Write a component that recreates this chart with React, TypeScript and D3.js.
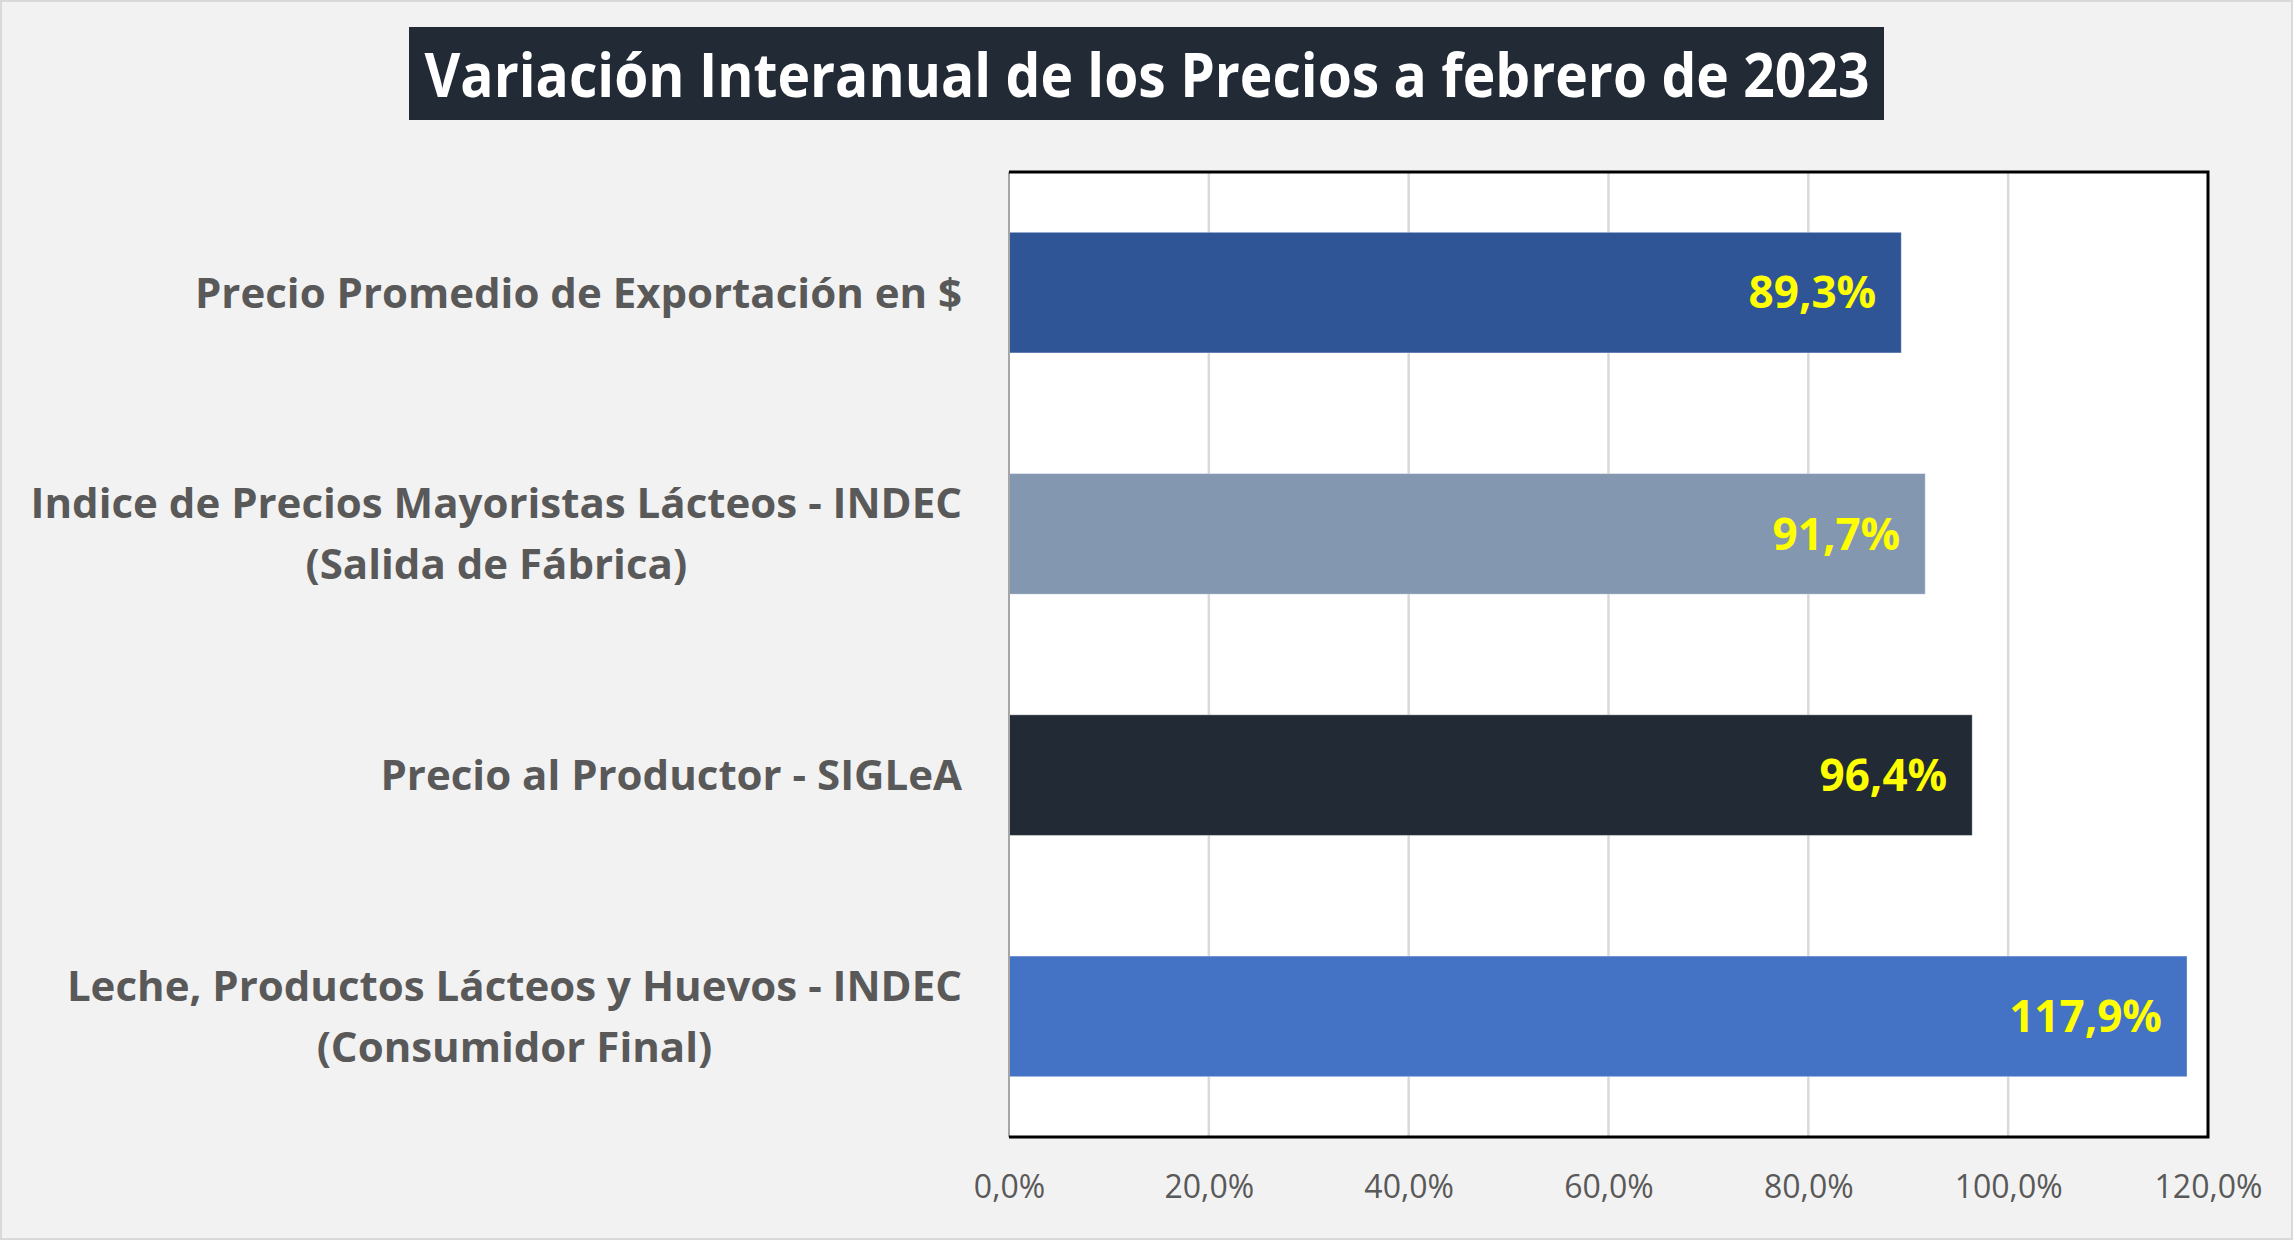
import React, { useEffect, useRef } from "react";
import * as d3 from "d3";

const TITLE = "Variación Interanual de los Precios a febrero de 2023";
const categories: string[][] = [
  ["Precio Promedio de Exportación en $"],
  ["Indice de Precios Mayoristas Lácteos - INDEC", "(Salida de Fábrica)"],
  ["Precio al Productor - SIGLeA"],
  ["Leche, Productos Lácteos y Huevos - INDEC", "(Consumidor Final)"],
];
const values: number[] = [89.3, 91.7, 96.4, 117.9];
const barColors: string[] = ["#2f5597", "#8497b0", "#222a35", "#4472c4"];
const tickValues: number[] = [0, 20, 40, 60, 80, 100, 120];

const W = 2293;
const H = 1240;
const FONT = "'Open Sans', 'Noto Sans', sans-serif";

export default function App() {
  const ref = useRef<SVGSVGElement | null>(null);

  useEffect(() => {
    const svg = d3.select(ref.current!);
    svg.selectAll("*").remove();

    const locale = d3.formatLocale({ decimal: ",", thousands: ".", grouping: [3], currency: ["$", ""] });
    const fmt = (v: number) => locale.format(".1f")(v) + "%";

    const left = 1009, right = 2208, top = 172, bottom = 1137;
    const x = d3.scaleLinear().domain([0, 120]).range([left, right]);
    const keys = categories.map((c) => c.join(" "));
    const y = d3.scaleBand<string>().domain(keys).range([top, bottom]).paddingInner(0.5).paddingOuter(0.25);

    // background
    svg.append("rect").attr("x", 1).attr("y", 1).attr("width", W - 2).attr("height", H - 2)
      .attr("fill", "#f2f2f2").attr("stroke", "#d9d9d9").attr("stroke-width", 2);

    // title box
    svg.append("rect").attr("x", 409).attr("y", 27).attr("width", 1475).attr("height", 93).attr("fill", "#222a35");
    svg.append("text").attr("x", 1147).attr("y", 97).attr("text-anchor", "middle")
      .attr("font-family", FONT).attr("font-weight", 700).attr("font-size", 61).attr("fill", "#ffffff")
      .attr("textLength", 1445).attr("lengthAdjust", "spacingAndGlyphs").text(TITLE);

    // plot area
    svg.append("rect").attr("x", left).attr("y", top).attr("width", right - left).attr("height", bottom - top).attr("fill", "#ffffff");

    // gridlines
    svg.append("g").selectAll("line").data(tickValues.filter((t) => t > 0 && t < 120)).join("line")
      .attr("x1", (d) => x(d)).attr("x2", (d) => x(d)).attr("y1", top).attr("y2", bottom)
      .attr("stroke", "#d9d9d9").attr("stroke-width", 2.5);

    // bars
    svg.append("g").selectAll("rect").data(values).join("rect")
      .attr("x", x(0)).attr("y", (_d, i) => y(keys[i])!).attr("width", (d) => x(d) - x(0))
      .attr("height", y.bandwidth()).attr("fill", (_d, i) => barColors[i])
      .attr("stroke", "#ffffff").attr("stroke-opacity", 0.35).attr("stroke-width", 1);

    // data labels
    svg.append("g").selectAll("text").data(values).join("text")
      .attr("x", (d) => x(d) - 25).attr("y", (_d, i) => y(keys[i])! + y.bandwidth() / 2).attr("dy", "0.36em")
      .attr("text-anchor", "end").attr("font-family", FONT).attr("font-weight", 700).attr("font-size", 44)
      .attr("fill", "#ffff00").text((d) => fmt(d));

    // borders
    svg.append("line").attr("x1", left).attr("x2", left).attr("y1", top).attr("y2", bottom)
      .attr("stroke", "#a6a6a6").attr("stroke-width", 2);
    svg.append("path").attr("d", `M${left},${top}H${right}V${bottom}H${left}`).attr("fill", "none")
      .attr("stroke", "#000000").attr("stroke-width", 3);

    // x axis tick labels
    const axis = d3.axisBottom(x).tickValues(tickValues).tickSize(0).tickPadding(0).tickFormat((d) => fmt(d as number));
    const ag = svg.append("g").attr("transform", `translate(0, 1175)`).call(axis);
    ag.select(".domain").remove();
    ag.selectAll("text").attr("font-family", FONT).attr("font-size", 32).attr("fill", "#595959").attr("dy", "0.71em");

    // category labels
    const labelRight = 962;
    const lineGap = 61;
    categories.forEach((lines, i) => {
      const cy = y(keys[i])! + y.bandwidth() / 2;
      const g = svg.append("g");
      const texts = lines.map((ln, j) =>
        g.append("text").attr("y", cy + (j - (lines.length - 1) / 2) * lineGap).attr("dy", "0.36em")
          .attr("text-anchor", "middle").attr("font-family", FONT).attr("font-weight", 700)
          .attr("font-size", 42).attr("fill", "#595959").text(ln)
      );
      const widths = texts.map((t) => (t.node() as SVGTextElement).getComputedTextLength());
      const maxW = Math.max(...widths);
      const cx = labelRight - maxW / 2;
      texts.forEach((t) => t.attr("x", cx));
    });
  }, []);

  return (
    <svg ref={ref} width={W} height={H} style={{ position: "absolute", left: 0, top: 0, display: "block" }} />
  );
}
